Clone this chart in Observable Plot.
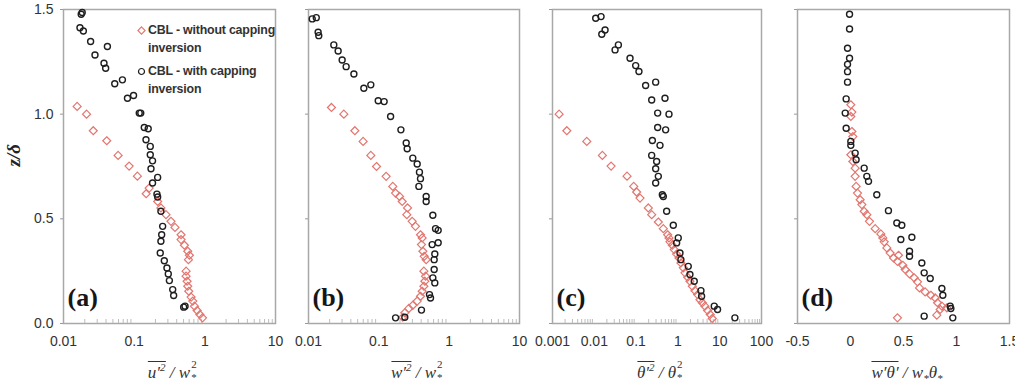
<!DOCTYPE html>
<html>
<head>
<meta charset="utf-8">
<script src="https://cdn.jsdelivr.net/npm/d3@7"></script>
<script src="https://cdn.jsdelivr.net/npm/@observablehq/plot@0.6"></script>
<style>
  html, body { margin: 0; padding: 0; background: #fff; }
  #fig { position: relative; width: 1015px; height: 392px; overflow: hidden; font-family: "Liberation Sans", Arial, sans-serif; }
  #fig > svg { position: absolute; top: 0; overflow: visible; }
  .xt { position: absolute; top: 361px; transform: translateX(-50%); font-family: "Liberation Serif", "Times New Roman", serif; font-style: italic; font-size: 17px; line-height: 20px; color: #333; white-space: nowrap; }
  .ob { display: inline-block; border-top: 1.3px solid #333; padding-top: 2px; line-height: 18px; }
  .xt sup { font-size: 11px; line-height: 0; }
  .xt sub { font-size: 11px; line-height: 0; }
  .ss { position: relative; display: inline-block; width: 8px; height: 10px; }
  .ss .p, .ss .b { position: absolute; left: 1px; font-size: 11px; line-height: 11px; font-style: normal; }
  .ss .p { top: -9px; }
  .ss .b { top: 4px; }
  .legend { position: absolute; left: 137px; top: 22px; font-family: "Liberation Sans", Arial, sans-serif; font-weight: bold; font-size: 12.4px; color: #333; letter-spacing: -0.2px; }
  .legend .row { position: relative; padding-left: 11px; line-height: 17.5px; margin-bottom: 6px; }
  .legend svg { position: absolute; left: 0; top: 4px; }
</style>
</head>
<body>
<div id="fig"></div>
<script>
// Vertical axis, shared by all panels
const zTicks = [0, 0.5, 1.0, 1.5];

// Horizontal tick labels of each panel
const uTicks = [0.01, 0.1, 1, 10];
const wTicks = [0.01, 0.1, 1, 10];
const thTicks = [0.001, 0.01, 0.1, 1, 10, 100];
const fluxTicks = [-0.5, 0, 0.5, 1, 1.5];

const seriesNames = ["CBL - without capping inversion", "CBL - with capping inversion"];

// (a) u'^2 / w*^2  — pairs of [value, z/δ]
const uFree = [
  [0.0156, 1.037], [0.0212, 1.000], [0.0264, 0.921], [0.0409, 0.873], [0.0593, 0.803],
  [0.0849, 0.752], [0.111, 0.704], [0.148, 0.620], [0.163, 0.647], [0.215, 0.583],
  [0.239, 0.552], [0.282, 0.520], [0.332, 0.488], [0.378, 0.459], [0.461, 0.424],
  [0.461, 0.401], [0.514, 0.374], [0.573, 0.345], [0.605, 0.326], [0.586, 0.305],
  [0.543, 0.250], [0.543, 0.226], [0.561, 0.202], [0.573, 0.178], [0.592, 0.154],
  [0.640, 0.126], [0.675, 0.107], [0.713, 0.083], [0.778, 0.062], [0.849, 0.043],
  [0.927, 0.027]
];
const uCapped = [
  [0.0178, 1.477], [0.0184, 1.486], [0.0171, 1.413], [0.0191, 1.397], [0.0242, 1.347],
  [0.0418, 1.323], [0.0279, 1.283], [0.0374, 1.243], [0.0395, 1.219], [0.0531, 1.145],
  [0.0682, 1.164], [0.0804, 1.076], [0.098, 1.089], [0.118, 1.005], [0.124, 1.005],
  [0.139, 0.936], [0.158, 0.930], [0.147, 0.878], [0.169, 0.846], [0.169, 0.806],
  [0.182, 0.777], [0.173, 0.739], [0.215, 0.698], [0.182, 0.671], [0.210, 0.618],
  [0.215, 0.604], [0.239, 0.536], [0.253, 0.464], [0.245, 0.424], [0.239, 0.393],
  [0.234, 0.337], [0.267, 0.300], [0.291, 0.265], [0.304, 0.237], [0.315, 0.205],
  [0.351, 0.162], [0.362, 0.134], [0.525, 0.083], [0.502, 0.078]
];

// (b) w'^2 / w*^2
const wFree = [
  [0.0212, 1.032], [0.0318, 1.000], [0.0456, 0.921], [0.0598, 0.870], [0.0769, 0.803],
  [0.0927, 0.750], [0.127, 0.703], [0.158, 0.655], [0.173, 0.623], [0.197, 0.607],
  [0.215, 0.583], [0.256, 0.552], [0.250, 0.520], [0.298, 0.488], [0.332, 0.464],
  [0.391, 0.424], [0.413, 0.409], [0.404, 0.377], [0.423, 0.345], [0.442, 0.321],
  [0.471, 0.305], [0.437, 0.250], [0.461, 0.226], [0.451, 0.202], [0.437, 0.178],
  [0.413, 0.154], [0.391, 0.130], [0.351, 0.107], [0.304, 0.087], [0.267, 0.072],
  [0.234, 0.051], [0.219, 0.030]
];
const wCapped = [
  [0.0113, 1.455], [0.0129, 1.461], [0.0137, 1.391], [0.0140, 1.375], [0.0229, 1.331],
  [0.0264, 1.302], [0.0301, 1.259], [0.0343, 1.227], [0.0442, 1.192], [0.0612, 1.124],
  [0.0769, 1.140], [0.098, 1.064], [0.119, 1.060], [0.147, 0.989], [0.206, 0.925],
  [0.245, 0.862], [0.253, 0.835], [0.304, 0.790], [0.351, 0.762], [0.378, 0.723],
  [0.391, 0.692], [0.371, 0.655], [0.471, 0.607], [0.471, 0.583], [0.586, 0.517],
  [0.640, 0.453], [0.698, 0.445], [0.698, 0.386], [0.573, 0.377], [0.625, 0.332],
  [0.612, 0.305], [0.612, 0.258], [0.586, 0.218], [0.625, 0.194], [0.525, 0.138],
  [0.543, 0.122], [0.404, 0.064], [0.234, 0.030], [0.173, 0.027]
];

// (c) θ'^2 / θ*^2
const thFree = [
  [0.00144, 1.000], [0.00220, 0.921], [0.00661, 0.870], [0.0156, 0.803], [0.0252, 0.752],
  [0.0607, 0.704], [0.0877, 0.655], [0.103, 0.628], [0.124, 0.599], [0.196, 0.552],
  [0.236, 0.520], [0.340, 0.485], [0.448, 0.453], [0.569, 0.424], [0.612, 0.409],
  [0.647, 0.390], [0.735, 0.374], [0.820, 0.353], [0.933, 0.332], [1.06, 0.313],
  [1.18, 0.289], [1.35, 0.266], [1.48, 0.242], [1.71, 0.221], [1.94, 0.202],
  [2.21, 0.178], [2.56, 0.157], [2.96, 0.138], [3.37, 0.114], [3.83, 0.099],
  [4.43, 0.083], [5.13, 0.062], [5.94, 0.043], [6.63, 0.024]
];
const thCapped = [
  [0.0108, 1.458], [0.0145, 1.466], [0.0151, 1.382], [0.0181, 1.402], [0.0314, 1.307],
  [0.0377, 1.331], [0.0716, 1.267], [0.0977, 1.232], [0.117, 1.204], [0.169, 1.137],
  [0.294, 1.153], [0.236, 1.068], [0.491, 1.076], [0.328, 1.005], [0.612, 1.000],
  [0.328, 0.936], [0.509, 0.925], [0.245, 0.874], [0.373, 0.851], [0.236, 0.803],
  [0.310, 0.774], [0.294, 0.739], [0.340, 0.703], [0.294, 0.671], [0.424, 0.615],
  [0.448, 0.607], [0.538, 0.536], [0.776, 0.469], [1.02, 0.409], [0.933, 0.385],
  [1.12, 0.337], [1.18, 0.305], [1.77, 0.273], [1.94, 0.234], [2.46, 0.202],
  [3.56, 0.157], [3.69, 0.130], [7.40, 0.083], [8.89, 0.067], [23.1, 0.027]
];

// (d) w'θ' / w*θ*
const fluxFree = [
  [0.003, 1.045], [0.013, 1.010], [0.003, 0.989], [0.013, 0.917], [0.022, 0.893],
  [0.003, 0.806], [0.022, 0.774], [0.044, 0.742], [0.044, 0.703], [0.053, 0.655],
  [0.066, 0.623], [0.091, 0.591], [0.107, 0.568], [0.129, 0.536], [0.154, 0.520],
  [0.179, 0.488], [0.233, 0.453], [0.286, 0.428], [0.305, 0.409], [0.318, 0.390],
  [0.343, 0.361], [0.374, 0.337], [0.406, 0.313], [0.453, 0.326], [0.443, 0.297],
  [0.494, 0.278], [0.516, 0.258], [0.557, 0.237], [0.601, 0.218], [0.632, 0.199],
  [0.651, 0.170], [0.704, 0.151], [0.758, 0.135], [0.799, 0.122], [0.821, 0.099],
  [0.862, 0.083], [0.909, 0.075], [0.846, 0.067], [0.814, 0.040], [0.443, 0.027]
];
const fluxCapped = [
  [-0.009, 1.477], [-0.009, 1.407], [-0.028, 1.315], [-0.009, 1.267], [-0.028, 1.238],
  [-0.028, 1.203], [-0.028, 1.153], [-0.041, 1.073], [-0.050, 1.005], [-0.041, 0.933],
  [0.003, 0.870], [0.003, 0.851], [0.044, 0.814], [0.053, 0.782], [0.129, 0.742],
  [0.154, 0.703], [0.170, 0.679], [0.248, 0.615], [0.358, 0.539], [0.437, 0.480],
  [0.484, 0.469], [0.475, 0.401], [0.579, 0.412], [0.557, 0.345], [0.557, 0.321],
  [0.673, 0.289], [0.695, 0.242], [0.752, 0.215], [0.862, 0.167], [0.871, 0.135],
  [0.940, 0.083], [0.947, 0.072], [0.695, 0.035], [0.965, 0.027]
];

const freeColor = "#e2766f";
const cappedColor = "#1e1e1e";
const frameColor = "#a8a8a8";

// value over a stacked superscript "2" and subscript "*"
const sq = '<span class="ss"><span class="p">2</span><span class="b">*</span></span>';

const panels = [
  { letter: "(a)", left: 0,   width: 290, ml: 63, mr: 15, type: "log", domain: [0.01, 10], ticks: uTicks, free: uFree, capped: uCapped, showZ: true,
    title: '<span class="ob"><i>u</i>′<sup>2</sup></span> / <i>w</i>' + sq },
  { letter: "(b)", left: 290, width: 245, ml: 18, mr: 16, type: "log", domain: [0.01, 10], ticks: wTicks, free: wFree, capped: wCapped,
    title: '<span class="ob"><i>w</i>′<sup>2</sup></span> / <i>w</i>' + sq },
  { letter: "(c)", left: 535, width: 245, ml: 17, mr: 19, type: "log", domain: [0.001, 100], ticks: thTicks, free: thFree, capped: thCapped,
    title: '<span class="ob"><i>θ</i>′<sup>2</sup></span> / <i>θ</i>' + sq },
  { letter: "(d)", left: 780, width: 235, ml: 17, mr: 6, type: "linear", domain: [-0.5, 1.5], ticks: fluxTicks, free: fluxFree, capped: fluxCapped,
    title: '<span class="ob"><i>w</i>′<i>θ</i>′</span> / <i>w</i><sub>*</sub><i>θ</i><sub>*</sub>' }
];

const fig = document.getElementById("fig");

for (const p of panels) {
  const minor = p.type === "log"
    ? d3.scaleLog().domain(p.domain).ticks().filter(v => !p.ticks.includes(v))
    : [];
  const chart = Plot.plot({
    width: p.width,
    height: 392,
    marginTop: 9,
    marginBottom: 69,
    marginLeft: p.ml,
    marginRight: p.mr,
    x: { type: p.type, domain: p.domain, axis: null },
    y: { domain: [0, 1.5], axis: null },
    style: { fontFamily: "'Liberation Sans', Arial, sans-serif", fontSize: "14px", color: "#333", background: "transparent" },
    marks: [
      Plot.frame({ stroke: frameColor, strokeWidth: 1.5 }),
      minor.length ? Plot.axisX(minor, { tickSize: -4, tickFormat: () => "", stroke: "#bdbdbd", label: null }) : null,
      Plot.axisX(p.ticks, { tickSize: 0, tickPadding: 13, tickFormat: d => String(d), fontSize: 14, fill: "#333", label: null }),
      Plot.axisY(zTicks, { tickSize: 3, tickPadding: 7, stroke: "#999", fontSize: 14, fill: "#333",
        tickFormat: p.showZ ? d3.format(".1f") : () => "", label: null }),
      p.showZ ? Plot.text(["z/δ"], { frameAnchor: "left", dx: -50, rotate: -90, fontSize: 19, fontWeight: "bold",
        fontStyle: "italic", fontFamily: "'Liberation Serif', 'Times New Roman', serif", fill: "#222" }) : null,
      Plot.dot(p.free, { x: d => d[0], y: d => d[1], symbol: "diamond2", r: 3.6, stroke: freeColor, strokeWidth: 1.2, fill: "none" }),
      Plot.dot(p.capped, { x: d => d[0], y: d => d[1], symbol: "circle", r: 3, stroke: cappedColor, strokeWidth: 1.4, fill: "none" }),
      Plot.text([p.letter], { frameAnchor: "bottom-left", dx: 4, dy: -18, lineAnchor: "bottom", textAnchor: "start",
        fontSize: 26, fontWeight: "bold", fontFamily: "'Liberation Serif', 'Times New Roman', serif", fill: "#161616" })
    ]
  });
  chart.style.left = p.left + "px";
  fig.appendChild(chart);

  const t = document.createElement("div");
  t.className = "xt";
  t.style.left = (p.left + p.ml + (p.width - p.ml - p.mr) / 2 + 4) + "px";
  t.innerHTML = p.title;
  fig.appendChild(t);
}

// Legend for the two boundary-layer cases, inside panel (a)
const legend = document.createElement("div");
legend.className = "legend";
const symbols = [
  '<svg width="9" height="9" viewBox="-4.5 -4.5 9 9"><path d="M0,-3.6L3.6,0L0,3.6L-3.6,0Z" fill="none" stroke="' + freeColor + '" stroke-width="1.1"/></svg>',
  '<svg width="9" height="9" viewBox="-4.5 -4.5 9 9"><circle r="3" fill="none" stroke="' + cappedColor + '" stroke-width="1.2"/></svg>'
];
const lines = [["CBL - without capping", "inversion"], ["CBL - with capping", "inversion"]];
seriesNames.forEach((name, i) => {
  const row = document.createElement("div");
  row.className = "row";
  row.title = name;
  row.innerHTML = symbols[i] + lines[i].join("<br>");
  legend.appendChild(row);
});
fig.appendChild(legend);
</script>
</body>
</html>
